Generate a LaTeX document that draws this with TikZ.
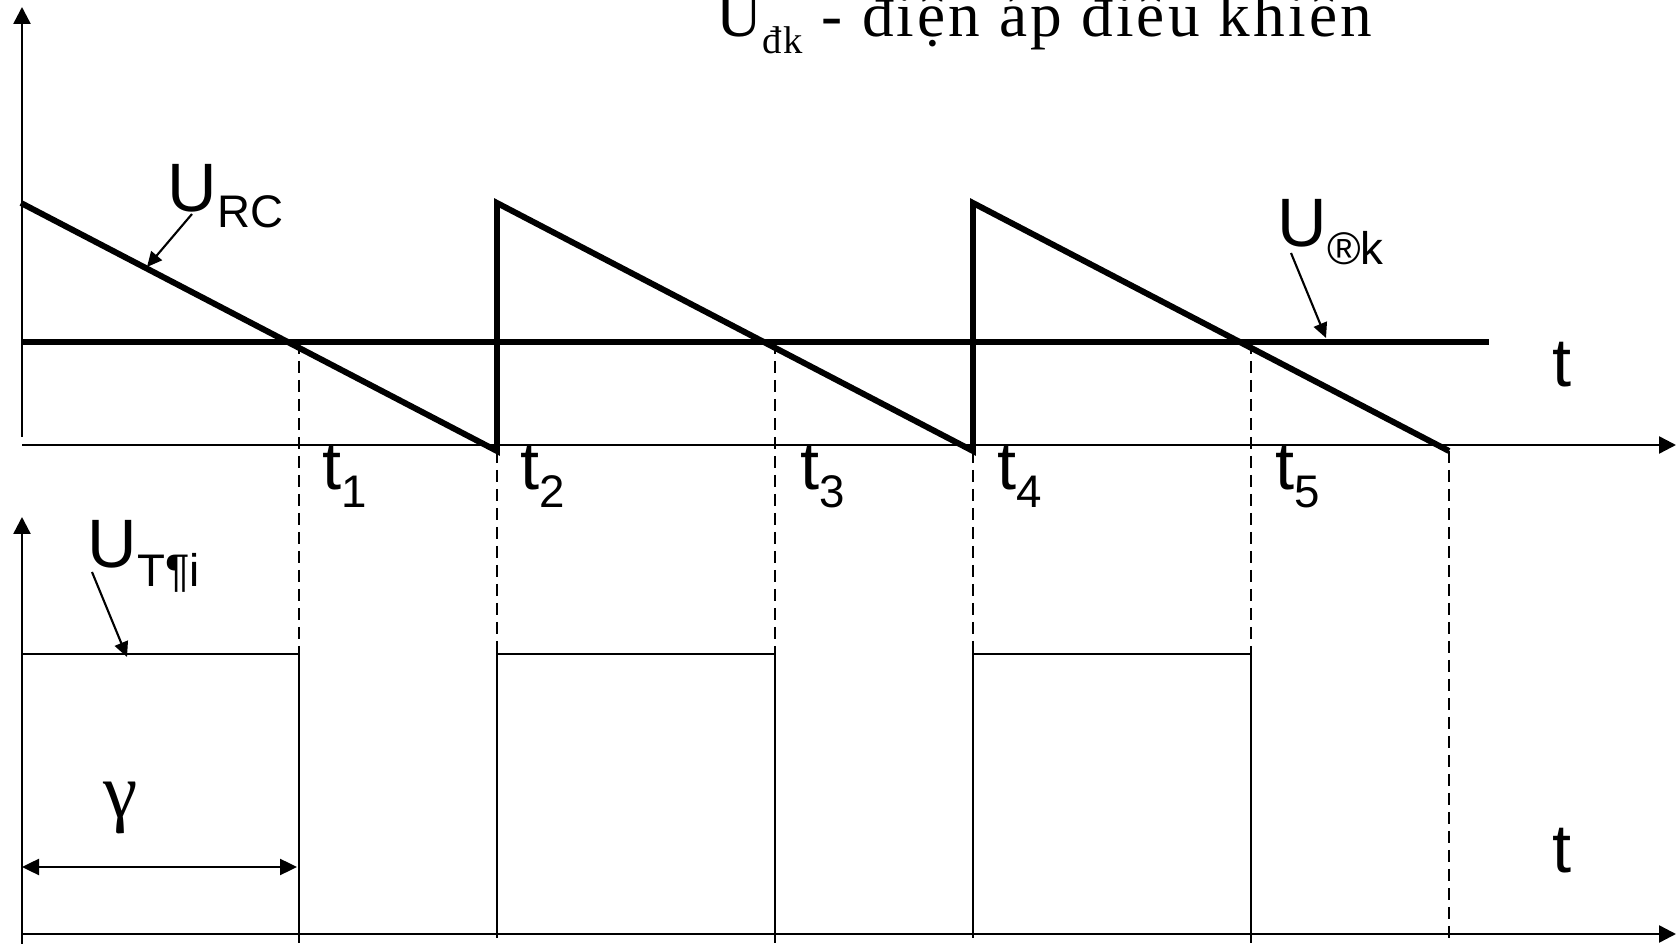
\documentclass[tikz,border=0pt]{standalone}
\usepackage{fontspec}
\setmainfont{Liberation Serif}
\newfontfamily\lblfont{Liberation Sans}
\newfontfamily\titlefont[LetterSpace=5]{Liberation Serif}
\usetikzlibrary{arrows.meta}

% tamaños de letra
\newcommand{\letragrande}{\lblfont\fontsize{19.5}{20}\selectfont}
\newcommand{\subind}[2]{\raisebox{-#1}{\fontsize{13}{13}\selectfont #2}}

\tikzset{
  eje/.style={line width=0.7pt, -{Triangle[length=1.7mm,width=1.7mm]}},
  senal/.style={line width=1.7pt},
  fino/.style={line width=0.7pt},
  guia/.style={line width=0.55pt, dash pattern=on 1.2mm off 0.7mm},
  flecha/.style={line width=0.6pt, -{Triangle[length=1.5mm,width=1.4mm]}},
  etiq/.style={anchor=base west, inner sep=0pt}
}

\begin{document}
\begin{tikzpicture}[x=1mm, y=1mm]
    \useasboundingbox (0,0) rectangle (167.7,94.4);

    % Titulo (cortado arriba)
    \node[etiq] (titulo) at (71.6,90.7) {\titlefont\fontsize{18}{18}\selectfont U\raisebox{-1.7mm}{\fontsize{11}{11}\selectfont đk} - điện áp điều khiển};

    % Ejes superiores
    \draw[eje] (2.2,50.7) -- (2.2,93.7);
    \draw[eje] (2.2,49.9) -- (167.6,49.9);

    % Lineas guia punteadas
    \draw[guia] (29.9,60.2) -- (29.9,0);
    \draw[guia] (49.7,49.3) -- (49.7,0);
    \draw[guia] (77.5,60.2) -- (77.5,0);
    \draw[guia] (97.3,49.3) -- (97.3,0);
    \draw[guia] (125.1,60.2) -- (125.1,0);
    \draw[guia] (144.9,49.3) -- (144.9,0);

    % Tension de control
    \draw[senal] (2.2,60.2) -- (148.9,60.2);

    % Diente de sierra
    \draw[senal, line join=miter] (2.1,74.1) -- (49.7,49.3) -- (49.7,74.1) -- (97.3,49.3) -- (97.3,74.1) -- (144.9,49.3);

    % Etiquetas superiores
    \node[etiq] (urc) at (16.7,73.2) {\letragrande U\subind{1.6mm}{RC}};
    \coordinate (purc) at (14.7,67.7);
    \draw[flecha] (19.2,73.0) -- (purc);

    \node[etiq] (udk) at (127.7,69.7) {\letragrande U\subind{1.8mm}{®k}};
    \coordinate (pudk) at (132.6,60.6);
    \draw[flecha] (129.1,69.1) -- (pudk);

    \node[etiq] (tsup) at (155.2,55.7) {\letragrande t};

    % Instantes
    \node[etiq] (t1) at (32.2,45.4) {\letragrande t\subind{1.8mm}{1}};
    \node[etiq] (t2) at (52.0,45.4) {\letragrande t\subind{1.8mm}{2}};
    \node[etiq] (t3) at (80.0,45.4) {\letragrande t\subind{1.8mm}{3}};
    \node[etiq] (t4) at (99.7,45.4) {\letragrande t\subind{1.8mm}{4}};
    \node[etiq] (t5) at (127.5,45.4) {\letragrande t\subind{1.8mm}{5}};

    % Ejes inferiores
    \draw[eje] (2.2,0) -- (2.2,42.7);
    \draw[eje] (2.2,1.0) -- (167.6,1.0);

    % Pulsos
    \draw[fino] (2.2,29.0) -- (29.9,29.0) -- (29.9,1.0);
    \draw[fino] (49.7,1.0) -- (49.7,29.0) -- (77.5,29.0) -- (77.5,1.0);
    \draw[fino] (97.3,1.0) -- (97.3,29.0) -- (125.1,29.0) -- (125.1,1.0);

    % Etiquetas inferiores
    \node[etiq] (utai) at (8.7,37.6) {\letragrande U\subind{1.9mm}{T¶i}};
    \coordinate (putai) at (12.7,28.7);
    \draw[flecha] (9.2,37.2) -- (putai);

    \node[etiq] (tinf) at (155.2,7.1) {\letragrande t};

    % Ancho gamma
    \node[inner sep=0pt] (gam) at (12.1,13.6) {\fontsize{22}{22}\selectfont γ};
    \draw[fino, {Triangle[length=1.7mm,width=1.6mm]}-{Triangle[length=1.7mm,width=1.6mm]}] (2.2,7.7) -- (29.7,7.7);

\end{tikzpicture}
\end{document}
